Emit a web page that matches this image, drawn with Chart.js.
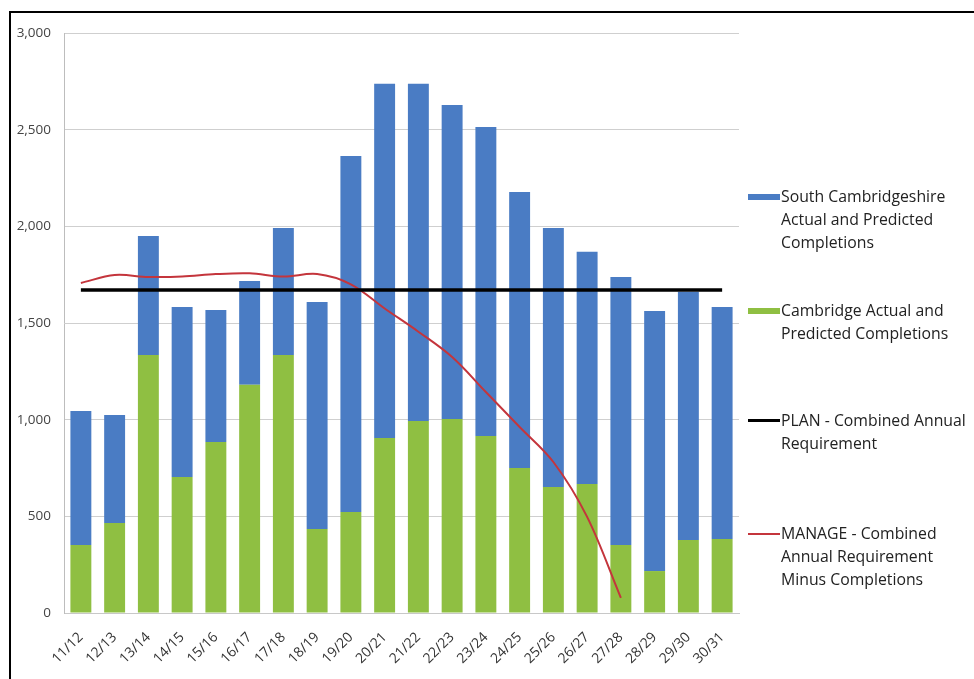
<!DOCTYPE html>
<html>
<head>
<meta charset="utf-8">
<script src="https://cdn.jsdelivr.net/npm/chart.js@4"></script>
<style>
  body { margin: 0; background: #fff; }
  .wrap { position: relative; width: 974px; height: 679px; overflow: hidden; }
  .frame { position: absolute; left: 9px; top: 11px; width: 1000px; height: 700px;
           border-left: 2px solid #000; border-top: 2px solid #000; }
  canvas { position: absolute; left: 0; top: 0; }
  .legend { position: absolute; left: 748px; top: 0; font-family: "Open Sans", sans-serif;
            font-size: 15.8px; color: #222; }
  .item { position: absolute; left: 0; width: 240px; }
  .item .mark { position: absolute; left: 0; width: 32px; }
  .item .txt { position: absolute; left: 33px; line-height: 23px; white-space: nowrap; }
</style>
</head>
<body>
<div class="wrap">
  <div class="frame"></div>
  <canvas id="popChart" width="974" height="679"></canvas>
  <div class="legend" id="legend"></div>
</div>
<script>
let years = ['11/12', '12/13', '13/14', '14/15', '15/16', '16/17', '17/18', '18/19', '19/20', '20/21',
    '21/22', '22/23', '23/24', '24/25', '25/26', '26/27', '27/28', '28/29', '29/30', '30/31']

let cambridge = [352, 466, 1335, 704, 885, 1180, 1335, 434, 522, 905,
    993, 1004, 916, 750, 652, 667, 352, 217, 378, 383]

let southCambs = [693, 558, 615, 879, 682, 537, 657, 1175, 1842, 1832,
    1744, 1624, 1598, 1428, 1340, 1201, 1386, 1345, 1283, 1200]

let plan = [1671, 1671, 1671, 1671, 1671, 1671, 1671, 1671, 1671, 1671,
    1671, 1671, 1671, 1671, 1671, 1671, 1671, 1671, 1671, 1671]

let manage = [1707, 1748, 1738, 1740, 1753, 1757, 1740, 1753, 1700, 1575,
    1455, 1324, 1143, 962, 781, 497, 78, null, null, null]

let yTicks = [0, 500, 1000, 1500, 2000, 2500, 3000]

let labelsText = [
    ['South Cambridgeshire', 'Actual and Predicted', 'Completions'],
    ['Cambridge Actual and', 'Predicted Completions'],
    ['PLAN - Combined Annual', 'Requirement'],
    ['MANAGE - Combined', 'Annual Requirement', 'Minus Completions']
]

let blue = '#4a7cc4'
let green = '#8fbf42'

const config = {
    type: 'bar',
    data: {
        labels: years,
        datasets: [
            { label: labelsText[1], data: cambridge, backgroundColor: green, stack: 'bars', order: 1,
              barPercentage: 0.62, categoryPercentage: 1 },
            { label: labelsText[0], data: southCambs, backgroundColor: blue, stack: 'bars', order: 1,
              barPercentage: 0.62, categoryPercentage: 1 },
            { type: 'line', label: labelsText[2], data: plan, borderColor: '#000', borderWidth: 3.5,
              pointRadius: 0, stack: 'plan', order: 0 },
            { type: 'line', label: labelsText[3], data: manage, borderColor: '#c4353c', borderWidth: 2,
              pointRadius: 0, tension: 0.35, stack: 'manage', order: 0 }
        ]
    },
    options: {
        animation: false,
        responsive: false,
        layout: { padding: { left: 0, top: 33, right: 235, bottom: 0 } },
        plugins: { legend: { display: false }, tooltip: { enabled: false } },
        scales: {
            x: {
                stacked: true,
                grid: { display: false },
                border: { color: '#c8c8c8' },
                ticks: {
                    minRotation: 45, maxRotation: 45, padding: 8,
                    color: '#333', font: { family: 'Open Sans', size: 14 }
                },
                afterFit: (s) => { s.height = 66 }
            },
            y: {
                stacked: true,
                min: 0, max: 3000,
                afterBuildTicks: (s) => { s.ticks = yTicks.map(v => ({ value: v })) },
                grid: { color: '#cfcfcf', drawTicks: false },
                border: { color: '#bdbdbd' },
                ticks: {
                    padding: 13,
                    color: '#444', font: { family: 'Open Sans', size: 13.5 },
                    callback: (v) => v.toLocaleString('en-US')
                },
                afterFit: (s) => { s.width = 64 }
            }
        }
    }
}

const chart = new Chart(document.getElementById('popChart').getContext('2d'), config)

// legend in the Excel layout: one evenly spaced slot per series
let order = [1, 0, 2, 3]
let tops = [185, 299, 409, 522]
let leg = document.getElementById('legend')
order.forEach((di, k) => {
    let ds = chart.data.datasets[di]
    let item = document.createElement('div')
    item.className = 'item'
    item.style.top = tops[k] + 'px'
    let mark = document.createElement('div')
    mark.className = 'mark'
    if (ds.type === 'line') {
        mark.style.height = (ds.borderWidth) + 'px'
        mark.style.top = (11.5 - ds.borderWidth / 2) + 'px'
        mark.style.background = ds.borderColor
    } else {
        mark.style.height = '6px'
        mark.style.top = '9px'
        mark.style.background = ds.backgroundColor
    }
    let txt = document.createElement('div')
    txt.className = 'txt'
    txt.innerHTML = ds.label.join('<br>')
    item.appendChild(mark)
    item.appendChild(txt)
    leg.appendChild(item)
})
</script>
</body>
</html>
